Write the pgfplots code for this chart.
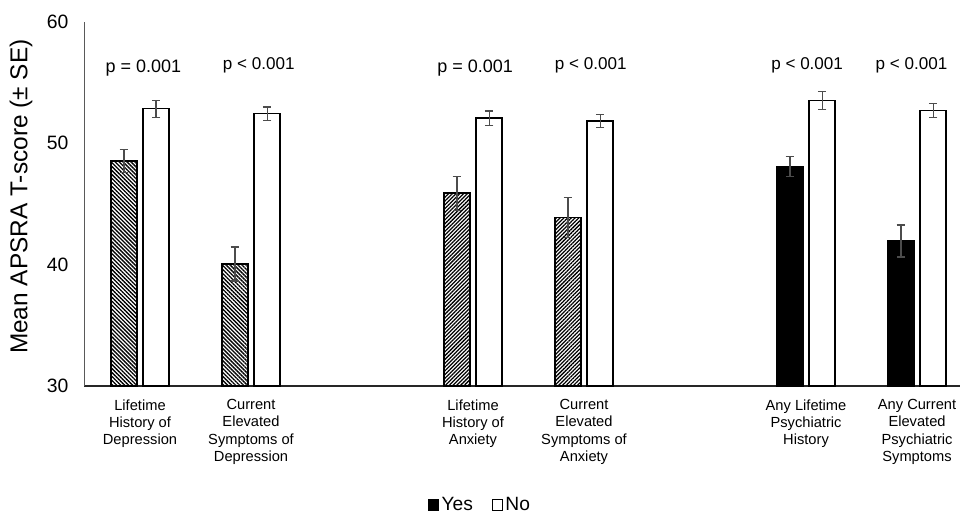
\documentclass[border=0pt]{standalone}
\usepackage{fontspec}
\setmainfont{Liberation Sans}
\usepackage{pgfplots}
\usepackage{pgfplotstable}
\pgfplotsset{compat=1.18}
\usetikzlibrary{patterns,patterns.meta}

% Yes bars are drawn at category - 0.145, No bars at category + 0.145
\pgfplotstableread{
x y e
-0.145 48.55 0.95
0.855 40.06 1.40
}\yesdep
\pgfplotstableread{
x y e
2.855 45.89 1.40
3.855 43.88 1.65
}\yesanx
\pgfplotstableread{
x y e
5.855 48.08 0.82
6.855 41.95 1.32
}\yespsy
\pgfplotstableread{
x y e
0.145 52.86 0.70
1.145 52.45 0.55
3.145 52.08 0.58
4.145 51.85 0.55
6.145 53.52 0.74
7.145 52.70 0.60
}\no

\begin{document}
\begin{tikzpicture}
\begin{axis}[
  at={(0,0)}, anchor=south west,
  scale only axis, width=656.625pt, height=273pt,
  xmin=-0.5, xmax=7.387, ymin=30, ymax=60,
  ytick={30,40,50,60},
  xtick={0,1,3,4,6,7},
  xticklabels={{Lifetime\\History of\\Depression},{Current\\Elevated\\Symptoms of\\Depression},{Lifetime\\History of\\Anxiety},{Current\\Elevated\\Symptoms of\\Anxiety},{Any Lifetime\\Psychiatric\\History},{Any Current\\Elevated\\Psychiatric\\Symptoms}},
  xticklabel style={align=center, font=\fontsize{11pt}{13pt}\selectfont, yshift=-6.5pt},
  yticklabel style={font=\fontsize{14.5pt}{17pt}\selectfont, xshift=-8.5pt},
  /pgf/number format/assume math mode=true,
  axis x line=bottom, axis y line=left,
  x axis line style={-, draw=black!85, line width=1.1pt},
  y axis line style={-, draw=black!65, line width=0.9pt},
  major tick length=0pt,
  ylabel={Mean APSRA T-score (± SE)},
  ylabel style={at={([xshift=-47.5pt]axis description cs:0,0.52)}, anchor=center, font=\fontsize{18.3pt}{21pt}\selectfont},
  error bars/error bar style={draw=black!70, line width=0.9pt},
  error bars/error mark options={rotate=90, draw=black!70, line width=0.9pt, mark size=3.2pt},
  legend style={at={([yshift=-89.25pt]axis description cs:0.452,0)}, anchor=center, draw=none,
     font=\fontsize{14.4pt}{16pt}\selectfont, legend columns=2,
     /tikz/every even column/.append style={column sep=12pt}},
  legend cell align=left,
]
\addplot[ybar, bar width=0.234, bar shift=0pt, draw=black, line width=1.1pt,
  pattern={Lines[angle=-45,distance=2.1pt,line width=1pt]}, forget plot,
  error bars/.cd, y dir=both, y explicit]
  table[x=x, y=y, y error=e]{\yesdep};
\addplot[ybar, bar width=0.234, bar shift=0pt, draw=black, line width=1.1pt,
  pattern={Lines[angle=45,distance=2.0pt,line width=0.95pt]}, forget plot,
  error bars/.cd, y dir=both, y explicit]
  table[x=x, y=y, y error=e]{\yesanx};
\addplot[ybar, bar width=0.234, bar shift=0pt, draw=black, line width=1.1pt,
  fill=black, forget plot,
  error bars/.cd, y dir=both, y explicit]
  table[x=x, y=y, y error=e]{\yespsy};
\addplot[ybar, bar width=0.234, bar shift=0pt, draw=black, line width=1.1pt,
  fill=white, forget plot,
  error bars/.cd, y dir=both, y explicit]
  table[x=x, y=y, y error=e]{\no};

\addlegendimage{legend image code/.code={\draw[fill=black,draw=black,line width=0.6pt] (0pt,-3.9pt) rectangle (7.8pt,3.9pt);}}
\addlegendentry{Yes}
\addlegendimage{legend image code/.code={\draw[fill=white,draw=black,line width=0.6pt] (0pt,-3.9pt) rectangle (7.8pt,3.9pt);}}
\addlegendentry{No}

\node[font=\fontsize{13.5pt}{16pt}\selectfont] at (axis cs:0.03,56.2) {p = 0.001};
\node[font=\fontsize{12.8pt}{15pt}\selectfont] at (axis cs:1.07,56.4) {p < 0.001};
\node[font=\fontsize{13.5pt}{16pt}\selectfont] at (axis cs:3.02,56.2) {p = 0.001};
\node[font=\fontsize{12.8pt}{15pt}\selectfont] at (axis cs:4.06,56.4) {p < 0.001};
\node[font=\fontsize{12.8pt}{15pt}\selectfont] at (axis cs:6.01,56.4) {p < 0.001};
\node[font=\fontsize{12.8pt}{15pt}\selectfont] at (axis cs:6.95,56.4) {p < 0.001};
\end{axis}
\pgfresetboundingbox
\path[use as bounding box] (-63.375pt,-96pt) rectangle (656.625pt,289.5pt);
\end{tikzpicture}
\end{document}
